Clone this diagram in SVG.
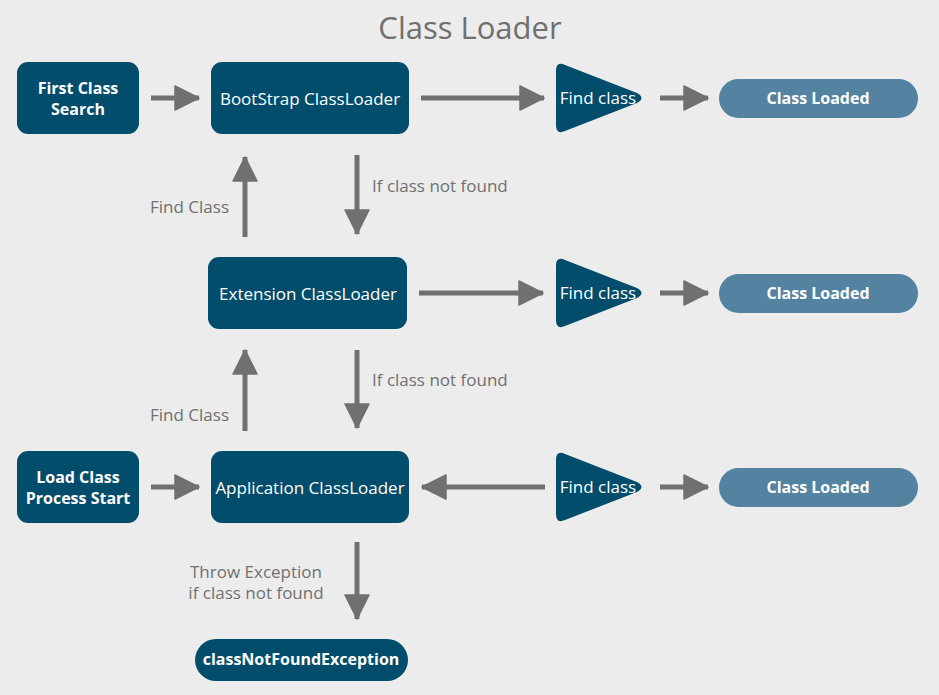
<svg xmlns="http://www.w3.org/2000/svg" width="939" height="695" viewBox="0 0 939 695">
<defs>
<style>
.bg{fill:#ececec}
.box{fill:#014d6b}
.pill{fill:#5482a1}
.t{font-family:"Open Sans",Lato,sans-serif;fill:#ffffff;font-size:17px;text-anchor:middle;dominant-baseline:central}
.b{font-weight:bold;font-size:16px}
.lbl{font-family:"Open Sans",Lato,sans-serif;fill:#707070;font-size:17px;text-anchor:middle;dominant-baseline:central}
.s{text-anchor:start}
.e{text-anchor:end}
.title{font-family:"Open Sans",Lato,sans-serif;fill:#707070;font-size:31px;font-weight:500;text-anchor:middle;dominant-baseline:central}
.c{stroke:#707070;stroke-width:5;fill:none;marker-end:url(#ah)}
</style>
<marker id="ah" markerUnits="userSpaceOnUse" markerWidth="26" markerHeight="28" viewBox="0 0 26 28" refX="25" refY="14" orient="auto">
<path d="M1,2 L25,14 L1,26 Z" fill="#707070" stroke="#707070" stroke-width="1.5" stroke-linejoin="round"/>
</marker>
</defs>
<rect class="bg" x="0" y="0" width="939" height="695"/>
<text class="title" x="470" y="27">Class Loader</text>

<g id="connectors">
<line class="c" x1="151" y1="98" x2="199" y2="98"/>
<line class="c" x1="421" y1="98" x2="544" y2="98"/>
<line class="c" x1="660" y1="98" x2="708" y2="98"/>
<line class="c" x1="245" y1="237" x2="245" y2="157"/>
<line class="c" x1="357" y1="155" x2="357" y2="234"/>
<line class="c" x1="419" y1="293" x2="543" y2="293"/>
<line class="c" x1="660" y1="293" x2="708" y2="293"/>
<line class="c" x1="245" y1="431" x2="245" y2="350"/>
<line class="c" x1="357" y1="350" x2="357" y2="428"/>
<line class="c" x1="151" y1="487" x2="199" y2="487"/>
<line class="c" x1="545" y1="487" x2="422" y2="487"/>
<line class="c" x1="660" y1="487" x2="708" y2="487"/>
<line class="c" x1="357" y1="542" x2="357" y2="619"/>
<text class="lbl e" x="229" y="206">Find Class</text>
<text class="lbl s" x="372" y="185">If class not found</text>
<text class="lbl e" x="229" y="414">Find Class</text>
<text class="lbl s" x="372" y="379">If class not found</text>
<text class="lbl" x="256" y="571">Throw Exception</text>
<text class="lbl" x="256" y="592">if class not found</text>
</g>

<g id="first-class-search">
<rect class="box" x="17" y="62" width="122" height="72" rx="11"/>
<text class="t b" x="78" y="88">First Class</text>
<text class="t b" x="78" y="109">Search</text>
</g>
<g id="bootstrap">
<rect class="box" x="211" y="62" width="198" height="72" rx="11"/>
<text class="t" x="310" y="98">BootStrap ClassLoader</text>
</g>
<g id="find1">
<path class="box" d="M556,71 Q556,61 565,65 L637,93 Q646,98 637,103 L565,131 Q556,135 556,125 Z"/>
<text class="t" x="598" y="97">Find class</text>
</g>
<g id="loaded1">
<rect class="pill" x="719" y="79" width="199" height="39" rx="19.5"/>
<text class="t b" x="818" y="98">Class Loaded</text>
</g>

<g id="extension">
<rect class="box" x="208" y="257" width="199" height="72" rx="11"/>
<text class="t" x="308" y="293">Extension ClassLoader</text>
</g>
<g id="find2">
<path class="box" d="M556,266 Q556,256 565,260 L637,288 Q646,293 637,298 L565,326 Q556,330 556,320 Z"/>
<text class="t" x="598" y="292">Find class</text>
</g>
<g id="loaded2">
<rect class="pill" x="719" y="274" width="199" height="39" rx="19.5"/>
<text class="t b" x="818" y="293">Class Loaded</text>
</g>

<g id="load-class-start">
<rect class="box" x="17" y="451" width="122" height="72" rx="11"/>
<text class="t b" x="78" y="477">Load Class</text>
<text class="t b" x="78" y="498">Process Start</text>
</g>
<g id="application">
<rect class="box" x="211" y="451" width="198" height="72" rx="11"/>
<text class="t" x="310" y="487">Application ClassLoader</text>
</g>
<g id="find3">
<path class="box" d="M556,460 Q556,450 565,454 L637,482 Q646,487 637,492 L565,520 Q556,524 556,514 Z"/>
<text class="t" x="598" y="486">Find class</text>
</g>
<g id="loaded3">
<rect class="pill" x="719" y="468" width="199" height="39" rx="19.5"/>
<text class="t b" x="818" y="487">Class Loaded</text>
</g>

<g id="exception">
<rect class="box" x="195" y="639" width="213" height="42" rx="21"/>
<text class="t b" x="301" y="659">classNotFoundException</text>
</g>
</svg>
